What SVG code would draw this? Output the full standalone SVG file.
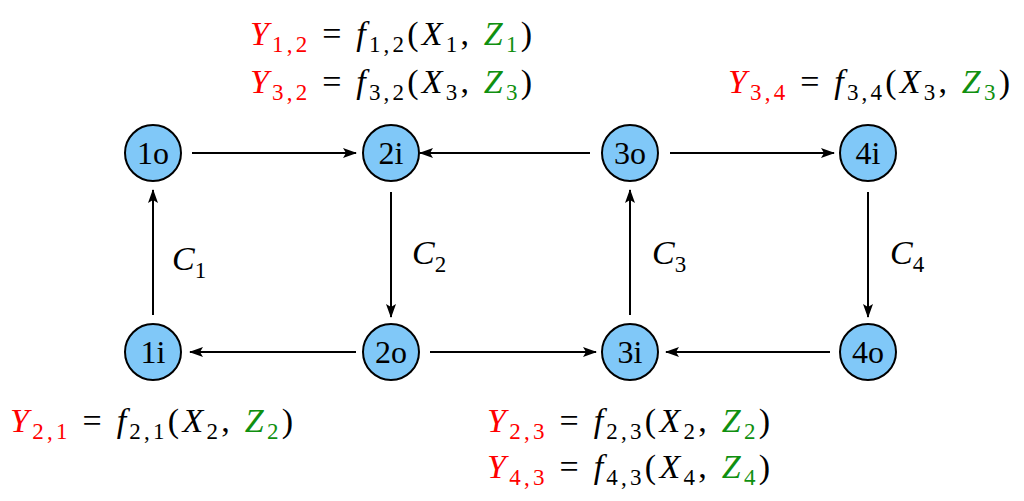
<svg xmlns="http://www.w3.org/2000/svg" width="1024" height="501" viewBox="0 0 1024 501">
<style>
.n{fill:#80c8f8;stroke:#000;stroke-width:2}
.nt{font-family:"Liberation Serif","DejaVu Serif",serif;font-size:32px;text-anchor:middle}
.c{stroke:#000;stroke-width:2;fill:none;marker-end:url(#a)}
.m{font-family:"Liberation Serif","DejaVu Serif",serif;font-size:34px;fill:#000}
.i{font-style:italic}
.r{fill:#ff0000}
.g{fill:#109010}
.s{font-size:23px}
</style>
<defs><marker id="a" markerWidth="14" markerHeight="10" refX="13" refY="5" orient="auto" markerUnits="userSpaceOnUse"><path d="M0,0 L14,5 L0,10 L3,5 Z" fill="#000"/></marker></defs>
<rect width="1024" height="501" fill="#fff"/>
<g id="connectors">
<line class="c" x1="192" y1="153" x2="356" y2="153"/>
<line class="c" x1="590" y1="153" x2="420" y2="153"/>
<line class="c" x1="670" y1="153" x2="834" y2="153"/>
<line class="c" x1="153" y1="315" x2="153" y2="190"/>
<line class="c" x1="391" y1="192" x2="391" y2="317"/>
<line class="c" x1="630" y1="315" x2="630" y2="190"/>
<line class="c" x1="868" y1="192" x2="868" y2="317"/>
<line class="c" x1="356" y1="352" x2="190" y2="352"/>
<line class="c" x1="430" y1="352" x2="596" y2="352"/>
<line class="c" x1="830" y1="352" x2="666" y2="352"/>
<text class="m" x="172" y="270"><tspan class="i">C</tspan><tspan class="s" dy="8">1</tspan></text>
<text class="m" x="412" y="264"><tspan class="i">C</tspan><tspan class="s" dy="8">2</tspan></text>
<text class="m" x="652" y="264"><tspan class="i">C</tspan><tspan class="s" dy="8">3</tspan></text>
<text class="m" x="890" y="264"><tspan class="i">C</tspan><tspan class="s" dy="8">4</tspan></text>
</g>
<g id="n1o"><circle class="n" cx="153" cy="153" r="28"/><text class="nt" x="153" y="164">1o</text></g>
<g id="n2i"><circle class="n" cx="391" cy="153" r="28"/><text class="nt" x="391" y="164">2i</text></g>
<g id="n3o"><circle class="n" cx="630" cy="153" r="28"/><text class="nt" x="630" y="164">3o</text></g>
<g id="n4i"><circle class="n" cx="868" cy="153" r="28"/><text class="nt" x="868" y="164">4i</text></g>
<g id="n1i"><circle class="n" cx="153" cy="352" r="28"/><text class="nt" x="153" y="363">1i</text></g>
<g id="n2o"><circle class="n" cx="391" cy="352" r="28"/><text class="nt" x="391" y="363">2o</text></g>
<g id="n3i"><circle class="n" cx="630" cy="352" r="28"/><text class="nt" x="630" y="363">3i</text></g>
<g id="n4o"><circle class="n" cx="868" cy="352" r="28"/><text class="nt" x="868" y="363">4o</text></g>
<g id="labels">
<text class="m" x="250" y="45" textLength="282" lengthAdjust="spacing"><tspan class="r i">Y</tspan><tspan class="r s" dy="7">1,2</tspan><tspan dy="-7"> = </tspan><tspan class="i">f</tspan><tspan class="s" dy="7">1,2</tspan><tspan dy="-7">(</tspan><tspan class="i">X</tspan><tspan class="s" dy="7">1</tspan><tspan dy="-7">, </tspan><tspan class="g i">Z</tspan><tspan class="g s" dy="7">1</tspan><tspan dy="-7">)</tspan></text>
<text class="m" x="250" y="93" textLength="282" lengthAdjust="spacing"><tspan class="r i">Y</tspan><tspan class="r s" dy="7">3,2</tspan><tspan dy="-7"> = </tspan><tspan class="i">f</tspan><tspan class="s" dy="7">3,2</tspan><tspan dy="-7">(</tspan><tspan class="i">X</tspan><tspan class="s" dy="7">3</tspan><tspan dy="-7">, </tspan><tspan class="g i">Z</tspan><tspan class="g s" dy="7">3</tspan><tspan dy="-7">)</tspan></text>
<text class="m" x="728" y="93" textLength="282" lengthAdjust="spacing"><tspan class="r i">Y</tspan><tspan class="r s" dy="7">3,4</tspan><tspan dy="-7"> = </tspan><tspan class="i">f</tspan><tspan class="s" dy="7">3,4</tspan><tspan dy="-7">(</tspan><tspan class="i">X</tspan><tspan class="s" dy="7">3</tspan><tspan dy="-7">, </tspan><tspan class="g i">Z</tspan><tspan class="g s" dy="7">3</tspan><tspan dy="-7">)</tspan></text>
<text class="m" x="10" y="432" textLength="283" lengthAdjust="spacing"><tspan class="r i">Y</tspan><tspan class="r s" dy="7">2,1</tspan><tspan dy="-7"> = </tspan><tspan class="i">f</tspan><tspan class="s" dy="7">2,1</tspan><tspan dy="-7">(</tspan><tspan class="i">X</tspan><tspan class="s" dy="7">2</tspan><tspan dy="-7">, </tspan><tspan class="g i">Z</tspan><tspan class="g s" dy="7">2</tspan><tspan dy="-7">)</tspan></text>
<text class="m" x="487" y="432" textLength="283" lengthAdjust="spacing"><tspan class="r i">Y</tspan><tspan class="r s" dy="7">2,3</tspan><tspan dy="-7"> = </tspan><tspan class="i">f</tspan><tspan class="s" dy="7">2,3</tspan><tspan dy="-7">(</tspan><tspan class="i">X</tspan><tspan class="s" dy="7">2</tspan><tspan dy="-7">, </tspan><tspan class="g i">Z</tspan><tspan class="g s" dy="7">2</tspan><tspan dy="-7">)</tspan></text>
<text class="m" x="487" y="478" textLength="283" lengthAdjust="spacing"><tspan class="r i">Y</tspan><tspan class="r s" dy="7">4,3</tspan><tspan dy="-7"> = </tspan><tspan class="i">f</tspan><tspan class="s" dy="7">4,3</tspan><tspan dy="-7">(</tspan><tspan class="i">X</tspan><tspan class="s" dy="7">4</tspan><tspan dy="-7">, </tspan><tspan class="g i">Z</tspan><tspan class="g s" dy="7">4</tspan><tspan dy="-7">)</tspan></text>
</g>
</svg>
